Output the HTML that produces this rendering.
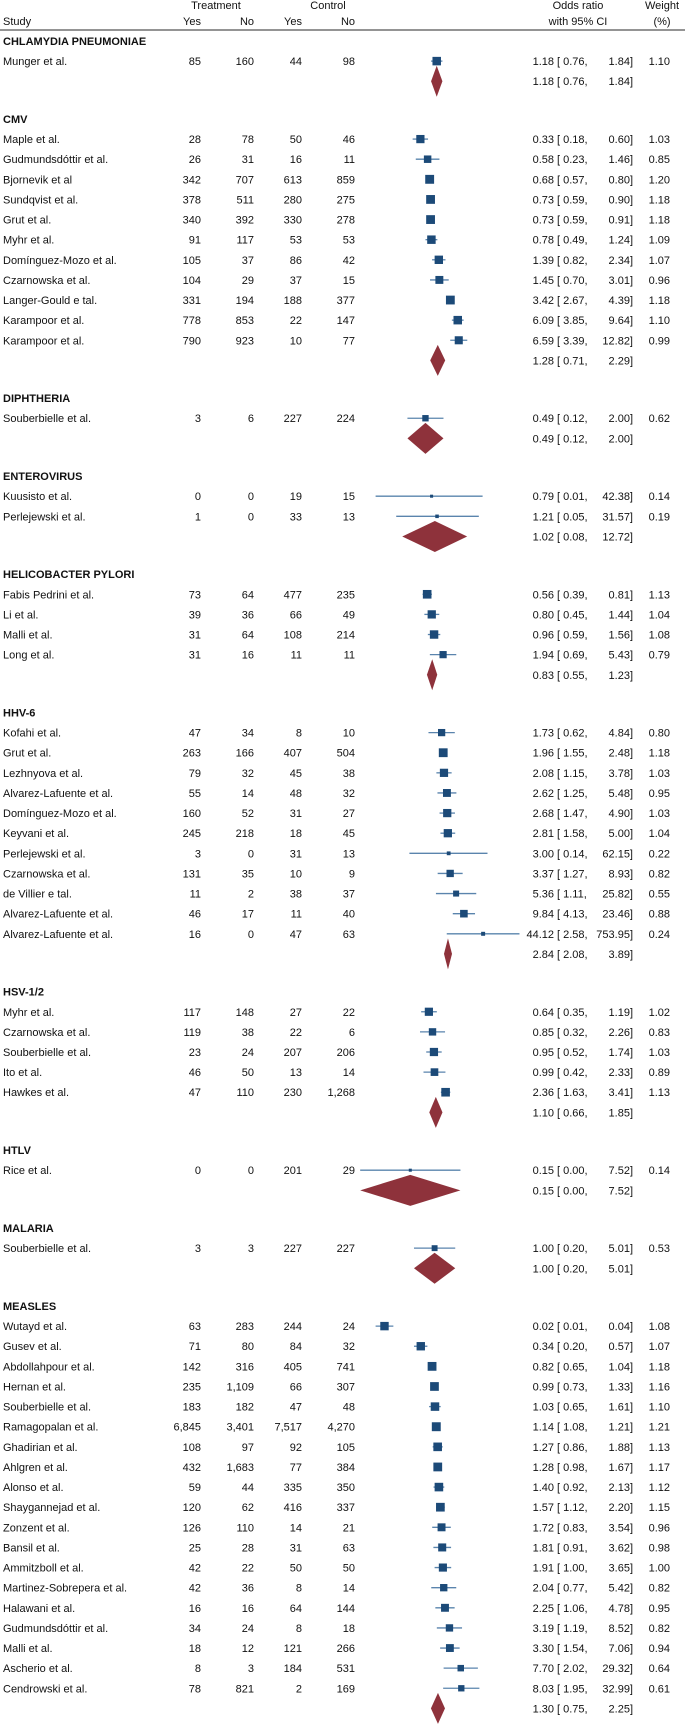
<!DOCTYPE html>
<html><head><meta charset="utf-8"><style>
html,body{margin:0;padding:0;background:#fff;}
svg text{font-family:"Liberation Sans",Arial,sans-serif;font-size:11px;fill:#111;}
</style></head><body>
<svg id="plot" width="685" height="1724" viewBox="0 0 685 1724" xmlns="http://www.w3.org/2000/svg">
<g>
<text x="216" y="9" text-anchor="middle">Treatment</text>
<text x="328" y="9" text-anchor="middle">Control</text>
<text x="578" y="9" text-anchor="middle">Odds ratio</text>
<text x="662" y="9" text-anchor="middle">Weight</text>
<text x="3" y="25">Study</text>
<text x="201" y="25" text-anchor="end">Yes</text>
<text x="254" y="25" text-anchor="end">No</text>
<text x="302" y="25" text-anchor="end">Yes</text>
<text x="355" y="25" text-anchor="end">No</text>
<text x="578" y="25" text-anchor="middle">with 95% CI</text>
<text x="662" y="25" text-anchor="middle">(%)</text>
<line x1="0" y1="30" x2="685" y2="30" stroke="#555" stroke-width="1.2"/>
</g>
<g id="rows"></g>
</svg>
<script>
const groupNames = ["CHLAMYDIA PNEUMONIAE","CMV","DIPHTHERIA","ENTEROVIRUS","HELICOBACTER PYLORI","HHV-6","HSV-1/2","HTLV","MALARIA","MEASLES"];
const groupOr = [1.18,1.28,0.49,1.02,0.83,2.84,1.10,0.15,1.00,1.30];
const groupLo = [0.76,0.71,0.12,0.08,0.55,2.08,0.66,0.003,0.20,0.75];
const groupHi = [1.84,2.29,2.00,12.72,1.23,3.89,1.85,7.52,5.01,2.25];
const studyGroup = [0, 1,1,1,1,1,1,1,1,1,1,1, 2, 3,3, 4,4,4,4, 5,5,5,5,5,5,5,5,5,5,5, 6,6,6,6,6, 7, 8, 9,9,9,9,9,9,9,9,9,9,9,9,9,9,9,9,9,9,9];
const studyNames = ["Munger et al.",
"Maple et al.","Gudmundsdóttir et al.","Bjornevik et al","Sundqvist et al.","Grut et al.","Myhr et al.","Domínguez-Mozo et al.","Czarnowska et al.","Langer-Gould e tal.","Karampoor et al.","Karampoor et al.",
"Souberbielle et al.",
"Kuusisto et al.","Perlejewski et al.",
"Fabis Pedrini et al.","Li et al.","Malli et al.","Long et al.",
"Kofahi et al.","Grut et al.","Lezhnyova et al.","Alvarez-Lafuente et al.","Domínguez-Mozo et al.","Keyvani et al.","Perlejewski et al.","Czarnowska et al.","de Villier e tal.","Alvarez-Lafuente et al.","Alvarez-Lafuente et al.",
"Myhr et al.","Czarnowska et al.","Souberbielle et al.","Ito et al.","Hawkes et al.",
"Rice et al.",
"Souberbielle et al.",
"Wutayd et al.","Gusev et al.","Abdollahpour et al.","Hernan et al.","Souberbielle et al.","Ramagopalan et al.","Ghadirian et al.","Ahlgren et al.","Alonso et al.","Shaygannejad et al.","Zonzent et al.","Bansil et al.","Ammitzboll et al.","Martinez-Sobrepera et al.","Halawani et al.","Gudmundsdóttir et al.","Malli et al.","Ascherio et al.","Cendrowski et al."];
const tYes = [85, 28,26,342,378,340,91,105,104,331,778,790, 3, 0,1, 73,39,31,31, 47,263,79,55,160,245,3,131,11,46,16, 117,119,23,46,47, 0, 3, 63,71,142,235,183,6845,108,432,59,120,126,25,42,42,16,34,18,8,78];
const tNo = [160, 78,31,707,511,392,117,37,29,194,853,923, 6, 0,0, 64,36,64,16, 34,166,32,14,52,218,0,35,2,17,0, 148,38,24,50,110, 0, 3, 283,80,316,1109,182,3401,97,1683,44,62,110,28,22,36,16,24,12,3,821];
const cYes = [44, 50,16,613,280,330,53,86,37,188,22,10, 227, 19,33, 477,66,108,11, 8,407,45,48,31,18,31,10,38,11,47, 27,22,207,13,230, 201, 227, 244,84,405,66,47,7517,92,77,335,416,14,31,50,8,64,8,121,184,2];
const cNo = [98, 46,11,859,275,278,53,42,15,377,147,77, 224, 15,13, 235,49,214,11, 10,504,38,32,27,45,13,9,37,40,63, 22,6,206,14,1268, 29, 227, 24,32,741,307,48,4270,105,384,350,337,21,63,50,14,144,18,266,531,169];
const oddsRatio = [1.18, 0.33,0.58,0.68,0.73,0.73,0.78,1.39,1.45,3.42,6.09,6.59, 0.49, 0.79,1.21, 0.56,0.80,0.96,1.94, 1.73,1.96,2.08,2.62,2.68,2.81,3.00,3.37,5.36,9.84,44.12, 0.64,0.85,0.95,0.99,2.36, 0.15, 1.00, 0.02,0.34,0.82,0.99,1.03,1.14,1.27,1.28,1.40,1.57,1.72,1.81,1.91,2.04,2.25,3.19,3.30,7.70,8.03];
const ciLow = [0.76, 0.18,0.23,0.57,0.59,0.59,0.49,0.82,0.70,2.67,3.85,3.39, 0.12, 0.01,0.05, 0.39,0.45,0.59,0.69, 0.62,1.55,1.15,1.25,1.47,1.58,0.14,1.27,1.11,4.13,2.58, 0.35,0.32,0.52,0.42,1.63, 0.003, 0.20, 0.01,0.20,0.65,0.73,0.65,1.08,0.86,0.98,0.92,1.12,0.83,0.91,1.00,0.77,1.06,1.19,1.54,2.02,1.95];
const ciHigh = [1.84, 0.60,1.46,0.80,0.90,0.91,1.24,2.34,3.01,4.39,9.64,12.82, 2.00, 42.38,31.57, 0.81,1.44,1.56,5.43, 4.84,2.48,3.78,5.48,4.90,5.00,62.15,8.93,25.82,23.46,753.95, 1.19,2.26,1.74,2.33,3.41, 7.52, 5.01, 0.04,0.57,1.04,1.33,1.61,1.21,1.88,1.67,2.13,2.20,3.54,3.62,3.65,5.42,4.78,8.52,7.06,29.32,32.99];
const weights = [1.10, 1.03,0.85,1.20,1.18,1.18,1.09,1.07,0.96,1.18,1.10,0.99, 0.62, 0.14,0.19, 1.13,1.04,1.08,0.79, 0.80,1.18,1.03,0.95,1.03,1.04,0.22,0.82,0.55,0.88,0.24, 1.02,0.83,1.03,0.89,1.13, 0.14, 0.53, 1.08,1.07,1.18,1.16,1.10,1.21,1.13,1.17,1.12,1.15,0.96,0.98,1.00,0.82,0.95,0.82,0.94,0.64,0.61];

const NS="http://www.w3.org/2000/svg";
const root=document.getElementById('rows');
const X0=434.6, PXD=29.5, ROW=20.12, GAP=17.6;
function xScale(v){return X0+PXD*Math.log10(v);}
function fmt(n){return n.toLocaleString('en-US');}
function mk(tag,attrs,parent){const e=document.createElementNS(NS,tag);for(const k in attrs)e.setAttribute(k,attrs[k]);(parent||root).appendChild(e);return e;}
function txt(x,y,s,anchor,parent,bold){const t=mk('text',{x:x,y:y,'text-anchor':anchor||'start'},parent);if(bold)t.setAttribute('font-weight','bold');t.textContent=s;return t;}
function ciText(g,y,o,l,h){
  const a=txt(554,y+4,o.toFixed(2),'end',g);
  
  
  const b=txt(557,y+4,'[ '+l.toFixed(2)+',','start',g);
  
  
  const c=txt(633,y+4,h.toFixed(2)+']','end',g);
  
  
}
let y=41;
for(let gi=0;gi<groupNames.length;gi++){
  const gg=mk('g',{});
  
  
  const tt=txt(3,y+4,groupNames[gi],'start',gg,true);
  
  
  y+=ROW;
  for(let i=0;i<studyNames.length;i++){
    if(studyGroup[i]!==gi)continue;
    const r=mk('g',{},gg);
    
    
    const n=txt(3,y+4,studyNames[i],'start',r);
    
    
    const c1=txt(201,y+4,fmt(tYes[i]),'end',r);
    
    
    const c2=txt(254,y+4,fmt(tNo[i]),'end',r);
    
    
    const c3=txt(302,y+4,fmt(cYes[i]),'end',r);
    
    
    const c4=txt(355,y+4,fmt(cNo[i]),'end',r);
    
    
    const ln=mk('line',{x1:xScale(ciLow[i]),x2:xScale(ciHigh[i]),y1:y,y2:y,stroke:'#5a84ad','stroke-width':1.3},r);
    
    
    const s=8.5*Math.sqrt(weights[i]/1.1);
    const sq=mk('rect',{x:xScale(oddsRatio[i])-s/2,y:y-s/2,width:s,height:s,fill:'#1c4a78'},r);
    
    
    ciText(r,y,oddsRatio[i],ciLow[i],ciHigh[i]);
    const w=txt(670,y+4,weights[i].toFixed(2),'end',r);
    
    
    y+=ROW;
  }
  const p=mk('g',{},gg);
  
  
  const xl=xScale(groupLo[gi]),xh=xScale(groupHi[gi]),xm=xScale(groupOr[gi]);
  const d=mk('polygon',{points:`${xl},${y} ${xm},${y-15.5} ${xh},${y} ${xm},${y+15.5}`,fill:'#8e323b'},p);
  
  
  ciText(p,y,groupOr[gi],groupLo[gi],groupHi[gi]);
  y+=ROW+GAP;
}
</script>
</body></html>
